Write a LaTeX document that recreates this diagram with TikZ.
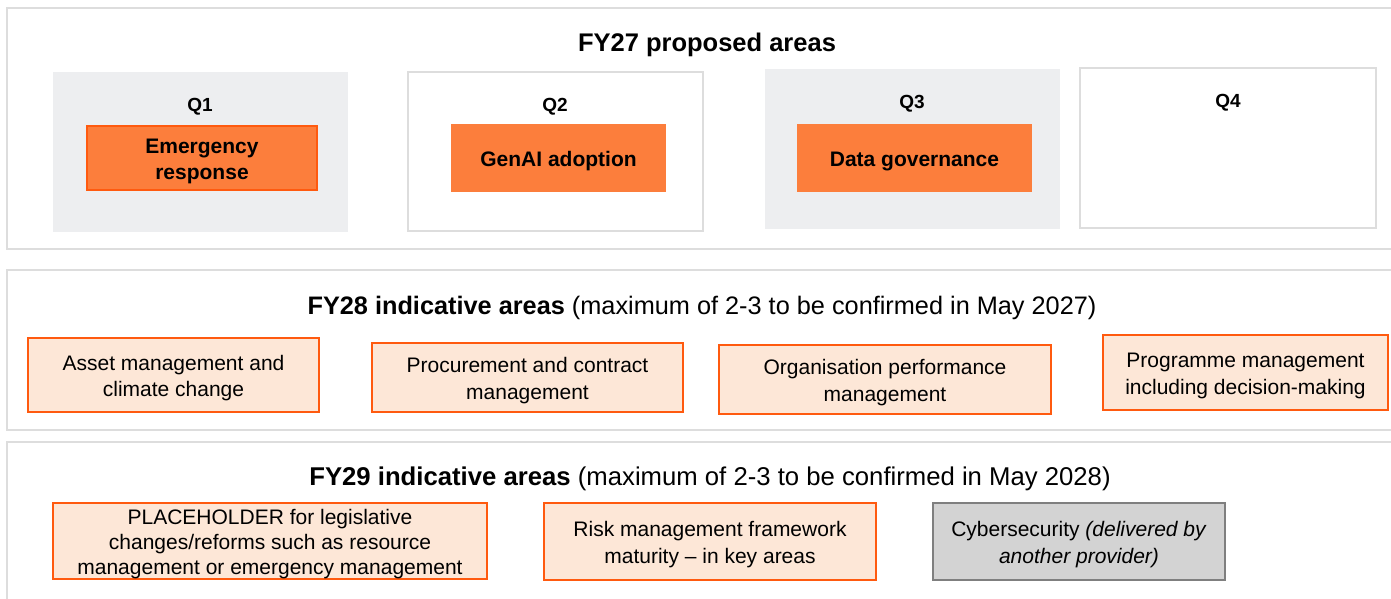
\documentclass[tikz,border=0pt]{standalone}
\usepackage{fontspec}
\setmainfont{Liberation Sans}
\usetikzlibrary{positioning}
\definecolor{orng}{HTML}{FC7E3C}
\definecolor{orngline}{HTML}{FF5A0F}
\definecolor{peach}{HTML}{FDE7D7}
\definecolor{qgray}{HTML}{EDEEF0}
\definecolor{panelline}{HTML}{DDDDDD}
\definecolor{cybergray}{HTML}{D3D3D3}
\definecolor{cyberline}{HTML}{7F7F7F}
% taller first line, pushes box text a little lower
\newcommand{\firstline}{\rule{0pt}{21.5pt}}

\begin{document}
\begin{tikzpicture}[x=1pt, y=-1pt, inner sep=0pt,
  panel/.style={rectangle, draw=panelline, line width=2pt},
  quarter/.style={rectangle, minimum width=295pt, minimum height=160pt},
  qlabel/.style={font=\fontsize{19}{22}\selectfont\bfseries},
  title/.style={font=\fontsize{25.3}{29}\selectfont},
  hot/.style={rectangle, fill=orng, align=center, font=\fontsize{21}{25.5}\selectfont\bfseries},
  soft/.style={rectangle, fill=peach, draw=orngline, line width=2.2pt, align=center, font=\fontsize{21}{26.5}\selectfont},
  other/.style={rectangle, fill=cybergray, draw=cyberline, line width=2.2pt, align=center, font=\fontsize{21}{26.5}\selectfont}]
\useasboundingbox (0,0) rectangle (1391,598);

% the three year panels
\node[panel, minimum width=1393pt, minimum height=241pt] (p27) at (703.5,128.5) {};
\node[panel, minimum width=1393pt, minimum height=160pt] (p28) at (703.5,350) {};
\node[panel, minimum width=1393pt, minimum height=168pt] (p29) at (703.5,526) {};

% FY27 quarters
\node[quarter, fill=qgray] (q1) at (200.5,152) {};
\node[quarter, draw=panelline, line width=1.5pt, minimum height=159pt] (q2) at (555.5,151.5) {};
\node[quarter, fill=qgray] (q3) at (912.5,149) {};
\node[quarter, draw=panelline, line width=1.5pt, minimum width=296pt] (q4) at (1228,148) {};
\node[qlabel] (l1) at (200,107) {Q1};
\node[qlabel] (l2) at (555,107) {Q2};
\node[qlabel] (l3) at (912,104) {Q3};
\node[qlabel] (l4) at (1228,103) {Q4};

\node[font=\fontsize{25.5}{29}\selectfont\bfseries] (t27) at (707,44.5) {FY27 proposed areas};
\node[hot, draw=orngline, line width=2pt, minimum width=230pt, minimum height=64pt] (er) at (202,158) {\firstline Emergency\\response};
\node[hot, minimum width=215pt, minimum height=68pt] (genai) at (558.5,158) {\firstline GenAI adoption};
\node[hot, minimum width=235pt, minimum height=68pt] (dg) at (914.5,158) {\firstline Data governance};

% FY28
\node[title] (t28) at (702,307.5) {\textbf{FY28 indicative areas} (maximum of 2-3 to be confirmed in May 2027)};
\node[soft, minimum width=291pt, minimum height=74pt] (asset) at (173.5,375) {\firstline Asset management and\\climate change};
\node[soft, minimum width=311pt, minimum height=69pt] (proc) at (527.5,377.5) {\firstline Procurement and contract\\management};
\node[soft, minimum width=332pt, minimum height=69pt] (org) at (885,379.5) {\firstline Organisation performance\\management};
\node[soft, minimum width=285pt, minimum height=75pt] (prog) at (1245.5,372.5) {\firstline Programme management\\including decision-making};

% FY29
\node[title, font=\fontsize{25.7}{29}\selectfont] (t29) at (710,478.5) {\textbf{FY29 indicative areas} (maximum of 2-3 to be confirmed in May 2028)};
\node[soft, minimum width=434pt, minimum height=76pt, font=\fontsize{21}{25}\selectfont] (ph) at (270,541) {\firstline PLACEHOLDER for legislative\\changes/reforms such as resource\\management or emergency management};
\node[soft, minimum width=332pt, minimum height=77pt] (risk) at (710,541.5) {\firstline Risk management framework\\maturity – in key areas};
\node[other, minimum width=292pt, minimum height=77pt] (cyber) at (1079,541.5) {\firstline Cybersecurity \textit{(delivered by}\\\textit{another provider)}};
\end{tikzpicture}
\end{document}
